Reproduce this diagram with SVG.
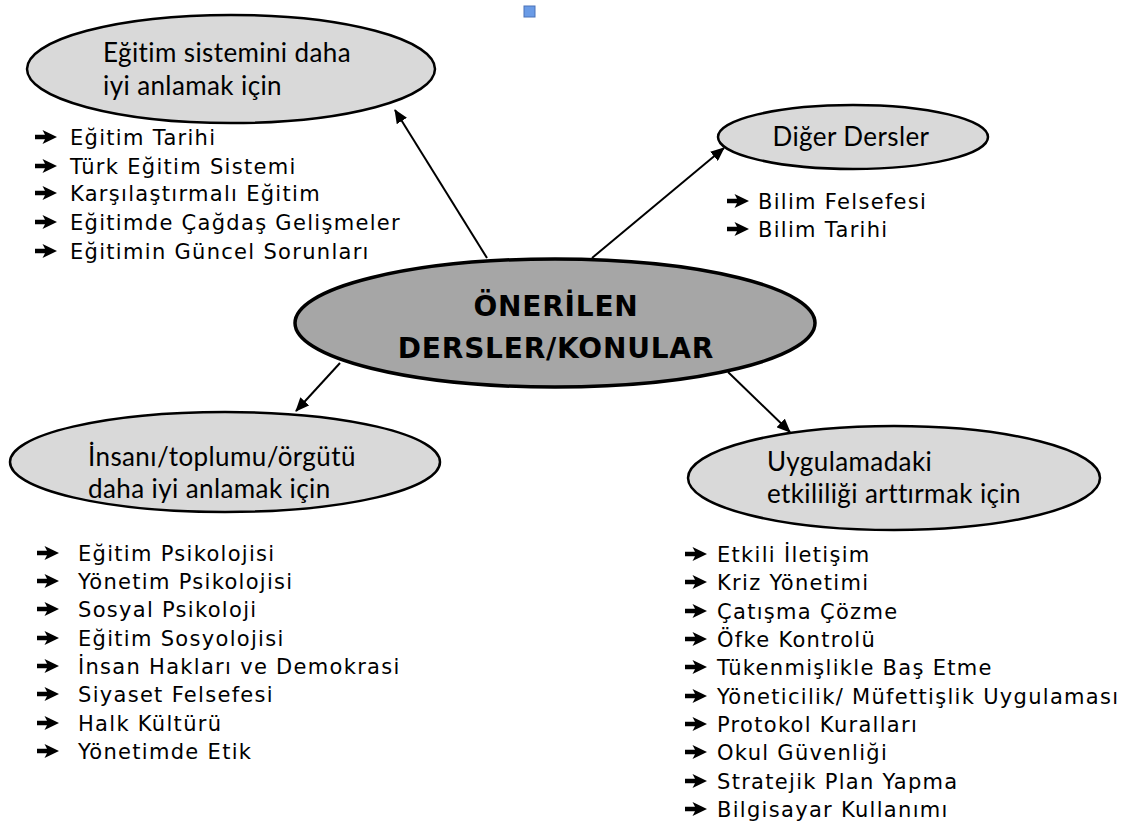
<svg xmlns="http://www.w3.org/2000/svg" width="1132" height="826" viewBox="0 0 1132 826">
<style>
.bg{fill:#ffffff}
.sub{fill:#d9d9d9;stroke:#000;stroke-width:2.5}
.main{fill:#a6a6a6;stroke:#000;stroke-width:3.5}
.lbl{font-family:Lato,"Open Sans","Noto Sans",sans-serif;font-size:26px;letter-spacing:0.4px;fill:#000}
.ttl{font-family:"DejaVu Sans",Verdana,sans-serif;font-weight:bold;font-size:28px;letter-spacing:0.8px;fill:#000;text-anchor:middle}
.itm{font-family:"DejaVu Sans",Verdana,sans-serif;font-size:21px;letter-spacing:1.3px;fill:#000}
.con{stroke:#000;stroke-width:2;fill:none}
</style>
<defs>
<marker id="ah" viewBox="0 0 14 12" refX="13" refY="6" markerWidth="14" markerHeight="12" markerUnits="userSpaceOnUse" orient="auto"><path d="M0,0 L14,6 L0,12 z" fill="#000"/></marker>
<path id="bul" d="M0,-2.2 L10,-2.2 L7.5,-7 L22,0 L7.5,7 L10,2.2 L0,2.2 Z" fill="#000"/>
</defs>
<rect class="bg" x="0" y="0" width="1132" height="826"/>
<rect x="524" y="6" width="11" height="11" fill="#6a9be6" stroke="#4a72b8" stroke-width="1"/>

<g id="connectors">
<line class="con" x1="487" y1="258" x2="395" y2="110" marker-end="url(#ah)"/>
<line class="con" x1="592" y1="258" x2="724" y2="148" marker-end="url(#ah)"/>
<line class="con" x1="340" y1="363" x2="296" y2="411" marker-end="url(#ah)"/>
<line class="con" x1="728" y1="372" x2="790" y2="432" marker-end="url(#ah)"/>
</g>

<g id="center">
<ellipse class="main" cx="555" cy="323" rx="260" ry="64"/>
<text class="ttl" x="556" y="316">ÖNERİLEN</text>
<text class="ttl" x="556" y="358">DERSLER/KONULAR</text>
</g>

<g id="egitim">
<ellipse class="sub" cx="231" cy="69" rx="204" ry="54"/>
<text class="lbl" x="103" y="62">Eğitim sistemini daha</text>
<text class="lbl" x="103" y="95">iyi anlamak için</text>
<use href="#bul" x="35" y="137"/>
<use href="#bul" x="35" y="166"/>
<use href="#bul" x="35" y="193"/>
<use href="#bul" x="35" y="222"/>
<use href="#bul" x="35" y="251"/>
<text class="itm" x="70" y="145">Eğitim Tarihi</text>
<text class="itm" x="70" y="174">Türk Eğitim Sistemi</text>
<text class="itm" x="70" y="201">Karşılaştırmalı Eğitim</text>
<text class="itm" x="70" y="230">Eğitimde Çağdaş Gelişmeler</text>
<text class="itm" x="70" y="259">Eğitimin Güncel Sorunları</text>
</g>

<g id="diger">
<ellipse class="sub" cx="853" cy="137" rx="135" ry="32"/>
<text class="lbl" x="851" y="146" text-anchor="middle">Diğer Dersler</text>
<use href="#bul" x="727" y="201"/>
<use href="#bul" x="727" y="229"/>
<text class="itm" x="758" y="209">Bilim Felsefesi</text>
<text class="itm" x="758" y="237">Bilim Tarihi</text>
</g>

<g id="insan">
<ellipse class="sub" cx="225" cy="462" rx="215" ry="50"/>
<text class="lbl" x="88" y="466">İnsanı/toplumu/örgütü</text>
<text class="lbl" x="88" y="498">daha iyi anlamak için</text>
<use href="#bul" x="37" y="553"/>
<use href="#bul" x="37" y="581"/>
<use href="#bul" x="37" y="609"/>
<use href="#bul" x="37" y="638"/>
<use href="#bul" x="37" y="666"/>
<use href="#bul" x="37" y="694"/>
<use href="#bul" x="37" y="723"/>
<use href="#bul" x="37" y="751"/>
<text class="itm" x="78" y="561">Eğitim Psikolojisi</text>
<text class="itm" x="78" y="589">Yönetim Psikolojisi</text>
<text class="itm" x="78" y="617">Sosyal Psikoloji</text>
<text class="itm" x="78" y="646">Eğitim Sosyolojisi</text>
<text class="itm" x="78" y="674">İnsan Hakları ve Demokrasi</text>
<text class="itm" x="78" y="702">Siyaset Felsefesi</text>
<text class="itm" x="78" y="731">Halk Kültürü</text>
<text class="itm" x="78" y="759">Yönetimde Etik</text>
</g>

<g id="uygulama">
<ellipse class="sub" cx="894" cy="478" rx="206" ry="52"/>
<text class="lbl" x="767" y="471">Uygulamadaki</text>
<text class="lbl" x="767" y="503">etkililiği arttırmak için</text>
<use href="#bul" x="685" y="554"/>
<use href="#bul" x="685" y="582"/>
<use href="#bul" x="685" y="611"/>
<use href="#bul" x="685" y="639"/>
<use href="#bul" x="685" y="667"/>
<use href="#bul" x="685" y="696"/>
<use href="#bul" x="685" y="724"/>
<use href="#bul" x="685" y="752"/>
<use href="#bul" x="685" y="781"/>
<use href="#bul" x="685" y="809"/>
<text class="itm" x="717" y="562">Etkili İletişim</text>
<text class="itm" x="717" y="590">Kriz Yönetimi</text>
<text class="itm" x="717" y="619">Çatışma Çözme</text>
<text class="itm" x="717" y="647">Öfke Kontrolü</text>
<text class="itm" x="717" y="675">Tükenmişlikle Baş Etme</text>
<text class="itm" x="717" y="704">Yöneticilik/ Müfettişlik Uygulaması</text>
<text class="itm" x="717" y="732">Protokol Kuralları</text>
<text class="itm" x="717" y="760">Okul Güvenliği</text>
<text class="itm" x="717" y="789">Stratejik Plan Yapma</text>
<text class="itm" x="717" y="817">Bilgisayar Kullanımı</text>
</g>
</svg>
